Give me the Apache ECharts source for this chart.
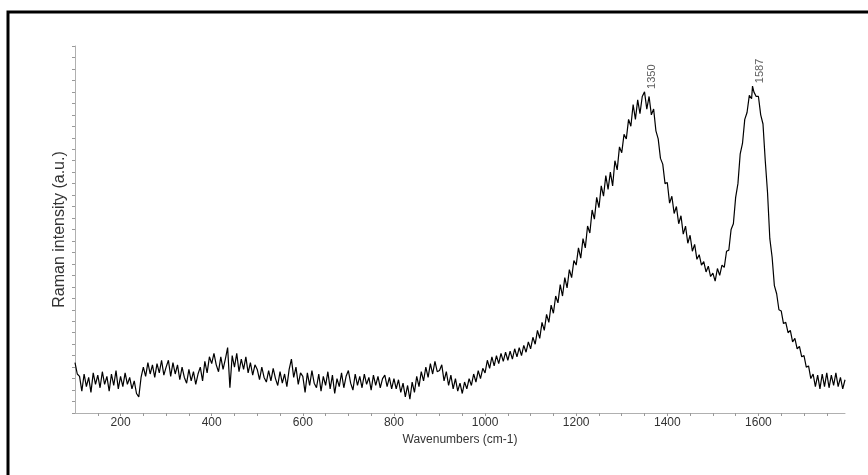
<!DOCTYPE html>
<html>
<head>
<meta charset="utf-8">
<script src="https://cdn.jsdelivr.net/npm/echarts@6/dist/echarts.min.js"></script>
<style>
  html, body { margin: 0; padding: 0; background: #fff; }
  #chart { width: 868px; height: 475px; }
</style>
</head>
<body>
<div id="chart"></div>
<script>
// Raman spectrum: wavenumber grid (cm-1) and measured intensity (counts)
const wnStart = 100;
const wnStep = 5;
const intensity = [
  440, 340, 320, 190, 340, 230, 310, 180, 350, 250, 330, 220, 360, 250, 320, 190, 340, 240, 370, 210,
  320, 230, 350, 250, 310, 210, 280, 170, 140, 310, 400, 320, 440, 340, 420, 310, 430, 350, 460, 330,
  400, 460, 320, 440, 340, 420, 290, 400, 310, 260, 380, 280, 360, 250, 340, 400, 280, 450, 350, 490,
  430, 520, 420, 360, 490, 380, 470, 570, 220, 500, 400, 520, 360, 470, 380, 490, 350, 440, 330, 420,
  380, 290, 400, 310, 270, 370, 280, 390, 300, 240, 360, 260, 340, 230, 380, 470, 310, 400, 250, 350,
  320, 180, 350, 240, 370, 260, 220, 340, 190, 320, 240, 360, 210, 330, 170, 300, 230, 350, 220, 320,
  370, 260, 200, 340, 240, 320, 220, 340, 250, 310, 200, 330, 240, 320, 220, 300, 330, 230, 310, 210,
  300, 210, 290, 180, 260, 140, 240, 120, 270, 180, 320, 230, 360, 280, 400, 310, 430, 340, 450, 360,
  370, 420, 280, 360, 240, 330, 210, 300, 190, 260, 170, 270, 210, 300, 240, 340, 270, 370, 300, 390,
  350, 460, 390, 490, 410, 500, 430, 520, 450, 530, 460, 540, 470, 560, 490, 570, 500, 590, 530, 620,
  560, 660, 600, 720, 650, 790, 720, 860, 790, 940, 870, 1020, 960, 1120, 1020, 1180, 1090, 1250, 1180, 1330,
  1290, 1440, 1350, 1520, 1440, 1630, 1570, 1770, 1690, 1880, 1790, 1980, 1890, 2070, 1950, 2100, 1980, 2200, 2120, 2320,
  2270, 2430, 2390, 2560, 2500, 2690, 2560, 2730, 2610, 2760, 2800, 2650, 2760, 2600, 2650, 2460, 2390, 2220, 2170, 2000,
  2010, 1830, 1890, 1740, 1800, 1650, 1720, 1560, 1630, 1480, 1550, 1410, 1470, 1340, 1380, 1290, 1320, 1230, 1280, 1190,
  1220, 1150, 1260, 1200, 1290, 1270, 1410, 1420, 1600, 1650, 1880, 2000, 2260, 2350, 2560, 2620, 2770, 2740, 2800, 2760,
  2760, 2600, 2520, 2200, 1920, 1520, 1360, 1110, 1040, 900, 890, 780, 790, 700, 720, 620, 650, 560, 580, 490,
  500, 400, 410, 300, 340, 230, 330, 210, 340, 230, 350, 220, 330, 240, 350, 230, 310, 210, 290
];

// Labelled band maxima (D and G bands)
const peakWn = [1350, 1587];
const peakInt = [2800, 2850];

// Axis settings
const xMin = 100, xMax = 1790, xTickStep = 50, xLabelStep = 200;
const yMin = 0, yMax = 3200, yTickStep = 100;

// Build the spectrum as [wavenumber, intensity] pairs, including the peak samples
const spectrum = intensity
  .map((v, i) => [wnStart + i * wnStep, v])
  .filter(p => !peakWn.includes(p[0]))
  .concat(peakWn.map((w, i) => [w, peakInt[i]]))
  .sort((a, b) => a[0] - b[0]);

const peaks = peakWn.map((w, i) => [w, peakInt[i]]);

const textFont = 'Liberation Sans, Arial, sans-serif';
const chart = echarts.init(document.getElementById('chart'), null, { renderer: 'canvas' });

chart.setOption({
  animation: false,
  backgroundColor: '#fff',
  grid: { left: 75, right: 23, top: 46, bottom: 62 },
  xAxis: {
    type: 'value',
    min: xMin,
    max: xMax,
    interval: xTickStep,
    name: 'Wavenumbers (cm-1)',
    nameLocation: 'middle',
    nameGap: 21,
    nameTextStyle: { fontSize: 12, color: '#333', fontFamily: textFont },
    axisLine: { lineStyle: { color: '#b0b0b0', width: 1 } },
    axisTick: { length: 3, lineStyle: { color: '#999' } },
    axisLabel: {
      fontSize: 12,
      color: '#333',
      fontFamily: textFont,
      margin: 4,
      showMinLabel: false,
      showMaxLabel: false,
      formatter: v => (v % xLabelStep === 0 ? String(v) : '')
    },
    splitLine: { show: false }
  },
  yAxis: {
    type: 'value',
    min: yMin,
    max: yMax,
    interval: yTickStep,
    name: 'Raman intensity (a.u.)',
    nameLocation: 'middle',
    nameGap: 7,
    nameTextStyle: { fontSize: 16, color: '#333', fontFamily: textFont },
    axisLine: { show: true, lineStyle: { color: '#b0b0b0', width: 1 } },
    axisTick: { show: true, length: 3, lineStyle: { color: '#999' } },
    axisLabel: { show: false },
    splitLine: { show: false }
  },
  series: [
    {
      type: 'line',
      data: spectrum,
      symbol: 'none',
      lineStyle: { color: '#000', width: 1.2 },
      silent: true
    },
    {
      type: 'scatter',
      data: peaks,
      symbolSize: 0,
      silent: true,
      label: {
        show: true,
        position: [2, -3],
        rotate: 90,
        align: 'left',
        verticalAlign: 'top',
        fontSize: 11,
        color: '#333',
        fontFamily: textFont,
        formatter: p => String(p.value[0])
      }
    }
  ],
  graphic: [
    {
      type: 'polyline',
      silent: true,
      shape: { points: [[8, 475], [8, 12], [868, 12]] },
      style: { stroke: '#000', lineWidth: 3, fill: null }
    }
  ]
});
</script>
</body>
</html>
